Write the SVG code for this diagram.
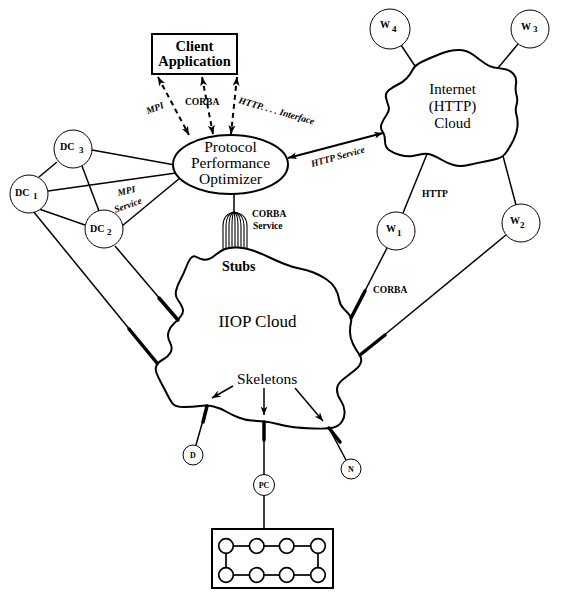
<svg xmlns="http://www.w3.org/2000/svg" width="561" height="606" viewBox="0 0 561 606">
<style>
text { font-family: "Liberation Serif", "Times New Roman", serif; fill: #000; }
.ppo { font-size: 15.5px; text-anchor: middle; }
.inet { font-size: 15px; text-anchor: middle; }
.lbl { font-size: 9.5px; font-weight: bold; }
.it { font-style: italic; }
.nlab { font-size: 10px; font-weight: bold; }
.sub { font-size: 9px; font-weight: bold; }
.tiny { font-size: 8px; font-weight: bold; text-anchor: middle; }
.nd { fill: #fff; stroke: #000; stroke-width: 1; }
.ln { stroke: #000; stroke-width: 1.5; fill: none; }
.thick { stroke: #000; stroke-width: 3.5; stroke-linecap: round; }
.cloud { fill: none; stroke: #000; stroke-width: 2; stroke-linejoin: round; }
.dash { stroke: #000; stroke-width: 2; stroke-dasharray: 5 4; fill: none; }
.stub { stroke: #000; stroke-width: 1.1; fill: none; }
.box { fill: #fff; stroke: #000; stroke-width: 2; }
.mini { fill: #fff; stroke: #000; stroke-width: 1.7; }
.miniln { stroke: #000; stroke-width: 1.7; }
</style>
<defs>
<marker id="ah" viewBox="0 0 10 8" refX="10" refY="4" markerWidth="9" markerHeight="7" markerUnits="userSpaceOnUse" orient="auto-start-reverse">
<path d="M0,0 L10,4 L0,8 L2.5,4 Z" fill="#000"/>
</marker>
<marker id="sk" viewBox="0 0 10 8" refX="10" refY="4" markerWidth="10" markerHeight="7" markerUnits="userSpaceOnUse" orient="auto">
<path d="M0,0 L10,4 L0,8 L3,4 Z" fill="#000"/>
</marker>
</defs>

<g id="connectors">
<line class="dash" x1="158" y1="77" x2="189" y2="135" marker-start="url(#ah)" marker-end="url(#ah)"/>
<line class="dash" x1="202" y1="77" x2="213" y2="134" marker-start="url(#ah)" marker-end="url(#ah)"/>
<line class="dash" x1="237" y1="77" x2="231" y2="134" marker-start="url(#ah)" marker-end="url(#ah)"/>
<line x1="288" y1="158" x2="383" y2="133" stroke="#000" stroke-width="2" marker-start="url(#ah)" marker-end="url(#ah)"/>
<line class="ln" x1="92" y1="150" x2="175" y2="165"/>
<line class="ln" x1="48" y1="191" x2="176" y2="173"/>
<line class="ln" x1="122" y1="226" x2="180" y2="178"/>
<line class="ln" x1="39" y1="177" x2="57" y2="162"/>
<line class="ln" x1="82" y1="166" x2="99" y2="211"/>
<line class="ln" x1="39" y1="209" x2="85" y2="225"/>
<line class="ln" x1="33" y1="211" x2="157" y2="363"/>
<line class="thick" x1="129" y1="329" x2="157" y2="363"/>
<line class="ln" x1="115" y1="246" x2="178" y2="320"/>
<line class="thick" x1="159" y1="298" x2="178" y2="320"/>
<line class="ln" x1="401" y1="45" x2="415" y2="66"/>
<line class="ln" x1="518" y1="44" x2="498" y2="68"/>
<line class="ln" x1="427" y1="154" x2="403" y2="213"/>
<line class="ln" x1="503" y1="156" x2="516" y2="205"/>
<line class="ln" x1="387" y1="248" x2="351" y2="318"/>
<line class="thick" x1="365" y1="291" x2="351" y2="318"/>
<line class="ln" x1="506" y1="235" x2="360" y2="355"/>
<line class="thick" x1="385" y1="335" x2="360" y2="355"/>
<line class="ln" x1="234" y1="193" x2="234" y2="212"/>
<path class="stub" d="M234,212 Q223,214 223,226 L223,250"/>
<path class="stub" d="M234,212 Q226,214 226,226 L226,249.3"/>
<path class="stub" d="M234,212 Q229,214 229,226 L229,248.5"/>
<path class="stub" d="M234,212 Q232,214 232,226 L232,248"/>
<path class="stub" d="M234,212 Q235,214 235,226 L235,247.8"/>
<path class="stub" d="M234,212 Q238,214 238,226 L238,247.6"/>
<path class="stub" d="M234,212 Q241,214 241,226 L241,247.7"/>
<path class="stub" d="M234,212 Q244,214 244,226 L244,248"/>
<path class="stub" d="M234,212 Q247,214 247,226 L247,248.6"/>
<line class="ln" x1="196" y1="445" x2="207" y2="406"/>
<line class="thick" x1="203" y1="422" x2="207" y2="406"/>
<line class="ln" x1="264" y1="422" x2="264" y2="474.5"/>
<line class="thick" x1="264" y1="422" x2="264" y2="440"/>
<line class="ln" x1="346" y1="460" x2="329" y2="428"/>
<line class="thick" x1="340" y1="442" x2="329" y2="428"/>
<line class="ln" x1="264" y1="495.5" x2="264" y2="529"/>
<line x1="233" y1="386" x2="212" y2="398" stroke="#000" stroke-width="1.5" marker-end="url(#sk)"/>
<line x1="264" y1="388" x2="264" y2="415" stroke="#000" stroke-width="1.5" marker-end="url(#sk)"/>
<line x1="295" y1="388" x2="323" y2="421" stroke="#000" stroke-width="1.5" marker-end="url(#sk)"/>
<text class="lbl it" text-anchor="middle" transform="translate(156,111) rotate(-21)">MPI</text>
<text class="lbl" x="185" y="105">CORBA</text>
<text class="lbl it" transform="translate(238,103) rotate(16)">HTTP. . . . Interface</text>
<text class="lbl it" transform="translate(312,167) rotate(-15.5)">HTTP Service</text>
<text class="lbl it" text-anchor="middle" transform="translate(127,194) rotate(-13)">MPI</text>
<text class="lbl it" text-anchor="middle" transform="translate(129,208) rotate(-20)">Service</text>
<text class="lbl" x="252" y="217">CORBA</text>
<text class="lbl" x="253" y="229">Service</text>
<text class="lbl" x="422" y="197">HTTP</text>
<text class="lbl" x="373" y="293">CORBA</text>
<text x="237" y="384" style="font-size:15.5px">Skeletons</text>
<text x="222" y="271" style="font-size:14px;font-weight:bold">Stubs</text>
</g>

<g id="client">
<rect class="box" x="152" y="34" width="85" height="40"/>
<text x="194.5" y="51" style="font-size:14.5px;font-weight:bold;text-anchor:middle">Client</text>
<text x="194.5" y="66" style="font-size:14.5px;font-weight:bold;text-anchor:middle">Application</text>
</g>

<g id="ppo">
<ellipse cx="230.5" cy="164.5" rx="57.5" ry="29.5" fill="#fff" stroke="#000" stroke-width="2"/>
<text class="ppo" x="230.5" y="152">Protocol</text>
<text class="ppo" x="230.5" y="168">Performance</text>
<text class="ppo" x="230.5" y="184">Optimizer</text>
</g>

<g id="dc3">
<circle class="nd" cx="73" cy="149" r="19"/>
<text class="nlab" x="60" y="150">DC</text><text class="sub" x="79" y="153">3</text>
</g>
<g id="dc1">
<circle class="nd" cx="29" cy="194" r="19"/>
<text class="nlab" x="15" y="196">DC</text><text class="sub" x="33" y="199">1</text>
</g>
<g id="dc2">
<circle class="nd" cx="104" cy="229" r="19"/>
<text class="nlab" x="90" y="232">DC</text><text class="sub" x="107" y="235">2</text>
</g>

<g id="internet">
<path class="cloud" d="M412.5,70 Q415,65 422.5,61.5 Q430,58 440,54 Q450,50 458.5,50 Q467,50 473.5,55 Q480,60 485,63.5 Q490,67 494,67.5 Q498,68 504,69 Q510,70 513.5,74 Q517,78 516,84 Q515,90 516.5,95 Q518,100 516.5,105 Q515,110 516.5,115 Q518,120 517.5,126.5 Q517,133 513.5,140 Q510,147 506.5,152 Q503,157 498,158.5 Q493,160 485,161.5 Q477,163 468.5,165 Q460,167 453.5,165 Q447,163 442,160 Q437,157 432,155 Q427,153 422.5,154 Q418,155 412.5,156 Q407,157 400,155 Q393,153 389,150 Q385,147 385,141 Q385,135 382.5,131.5 Q380,128 381.5,124 Q383,120 386.5,115 Q390,110 388.5,106 Q387,102 386,97.5 Q385,93 389,90 Q393,87 398,84.5 Q403,82 406.5,78.5 Q410,75 412.5,70 Z"/>
<text class="inet" x="452.5" y="94">Internet</text>
<text class="inet" x="452.5" y="111">(HTTP)</text>
<text class="inet" x="452.5" y="128">Cloud</text>
</g>

<g id="w4">
<circle class="nd" cx="390" cy="29" r="20"/>
<text class="nlab" x="380" y="28">W</text><text class="sub" x="392" y="32">4</text>
</g>
<g id="w3">
<circle class="nd" cx="530" cy="29" r="19"/>
<text class="nlab" x="521" y="30">W</text><text class="sub" x="533" y="32">3</text>
</g>
<g id="w1">
<circle class="nd" cx="396" cy="231" r="19"/>
<text class="nlab" x="386" y="232">W</text><text class="sub" x="397" y="236">1</text>
</g>
<g id="w2">
<circle class="nd" cx="521" cy="223" r="19"/>
<text class="nlab" x="510" y="224">W</text><text class="sub" x="520" y="228">2</text>
</g>

<g id="iiop">
<path class="cloud" d="M190.5,258.5 Q193,255 196.5,257 Q200,259 203,259.5 Q206,260 209,259 Q212,258 216,254.5 Q220,251 225,249 Q230,247 238,247.5 Q246,248 253,250.5 Q260,253 268.5,257 Q277,261 284.5,264 Q292,267 299.5,268.5 Q307,270 313.5,272.5 Q320,275 326,279 Q332,283 335,288 Q338,293 339,299 Q340,305 343.5,308.5 Q347,312 349.5,315 Q352,318 351,322 Q350,326 350,332 Q350,338 353,344 Q356,350 359,354 Q362,358 361,362 Q360,366 355,370 Q350,374 343.5,379 Q337,384 337,389.5 Q337,395 340.5,400 Q344,405 344.5,411 Q345,417 342,421.5 Q339,426 333.5,427.5 Q328,429 314,428.5 Q300,428 292.5,427 Q285,426 277.5,424 Q270,422 264,421.5 Q258,421 251.5,420.5 Q245,420 238.5,417.5 Q232,415 226,411.5 Q220,408 213.5,406.5 Q207,405 200,406 Q193,407 184,407 Q175,407 172.5,403.5 Q170,400 167.5,395 Q165,390 161.5,383.5 Q158,377 156.5,373 Q155,369 156.5,365.5 Q158,362 163,359.5 Q168,357 170.5,352.5 Q173,348 170,342.5 Q167,337 168.5,332 Q170,327 174,323.5 Q178,320 181,316 Q184,312 182.5,308 Q181,304 178,300 Q175,296 176,291 Q177,286 180.5,279.5 Q184,273 186,267.5 Q188,262 190.5,258.5 Z"/>
<text x="257.5" y="327" style="font-size:17px;text-anchor:middle">IIOP Cloud</text>
</g>

<g id="d">
<circle class="nd" cx="193" cy="455" r="10"/>
<text class="tiny" x="193" y="458">D</text>
</g>
<g id="pc">
<circle class="nd" cx="264" cy="485" r="10.5"/>
<text class="tiny" x="264" y="488">PC</text>
</g>
<g id="n">
<circle class="nd" cx="351" cy="469" r="10"/>
<text class="tiny" x="351" y="472">N</text>
</g>

<g id="cluster">
<rect class="box" x="212" y="529" width="121" height="59"/>
<line class="miniln" x1="233.5" y1="546" x2="249.5" y2="546"/>
<line class="miniln" x1="264" y1="546" x2="279.5" y2="546"/>
<line class="miniln" x1="294" y1="546" x2="310.5" y2="546"/>
<line class="miniln" x1="233.5" y1="575" x2="249.5" y2="575"/>
<line class="miniln" x1="264" y1="575" x2="279.5" y2="575"/>
<line class="miniln" x1="294" y1="575" x2="310.5" y2="575"/>
<line class="miniln" x1="226" y1="553.5" x2="226" y2="567.5"/>
<line class="miniln" x1="318" y1="553.5" x2="318" y2="567.5"/>
<circle class="mini" cx="226" cy="546" r="7.3"/>
<circle class="mini" cx="256.7" cy="546" r="7.3"/>
<circle class="mini" cx="286.7" cy="546" r="7.3"/>
<circle class="mini" cx="318" cy="546" r="7.3"/>
<circle class="mini" cx="226" cy="575" r="7.3"/>
<circle class="mini" cx="256.7" cy="575" r="7.3"/>
<circle class="mini" cx="286.7" cy="575" r="7.3"/>
<circle class="mini" cx="318" cy="575" r="7.3"/>
</g>
</svg>
